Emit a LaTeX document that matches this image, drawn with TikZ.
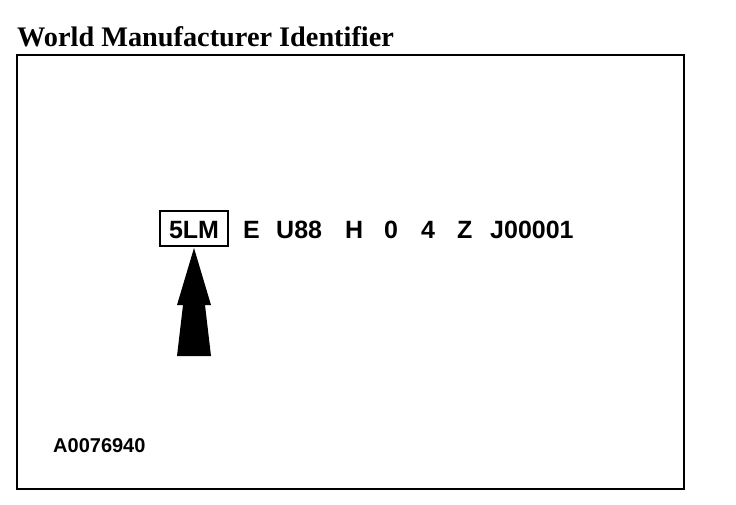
\documentclass[tikz,border=0pt]{standalone}
\usepackage{fontspec}
\setmainfont{Liberation Serif}
\newfontfamily\vinfont{Liberation Sans Bold}
\newfontfamily\titlefont{Liberation Serif Bold}
\usepackage{tikz}

\begin{document}
\begin{tikzpicture}[x=1pt, y=-1pt,
    vin/.style={font=\vinfont\fontsize{25}{25}\selectfont, inner sep=0, anchor=base west}]

\useasboundingbox (0,0) rectangle (736,504);

% Title
\node[font=\titlefont\fontsize{28.3}{28}\selectfont, inner sep=0, anchor=base west] (title) at (17, 46) {World Manufacturer Identifier};

% Frame
\draw[line width=2pt] (17, 55) rectangle (684, 489);

% VIN
\node[vin, draw, line width=2pt, anchor=base, minimum width=68pt,
      text height=27pt, text depth=8pt] (wmi) at (194, 238) {5LM};
\node[vin] (line) at (243, 238)  {E};
\node[vin] (model) at (276, 238) {U88};
\node[vin] (body) at (345, 238)  {H};
\node[vin] (engine) at (384, 238) {0};
\node[vin] (check) at (421, 238) {4};
\node[vin] (year) at (457, 238)  {Z};
\node[vin] (serial) at (490, 238) {J00001};

% Arrow
\fill (194, 248) -- (211, 305) -- (205, 305) -- (211, 356)
    -- (177, 356) -- (183, 305) -- (177, 305) -- cycle;

% Figure number
\node[font=\vinfont\fontsize{20}{20}\selectfont, inner sep=0, anchor=base west] (fig) at (53, 452) {A0076940};

\end{tikzpicture}
\end{document}
